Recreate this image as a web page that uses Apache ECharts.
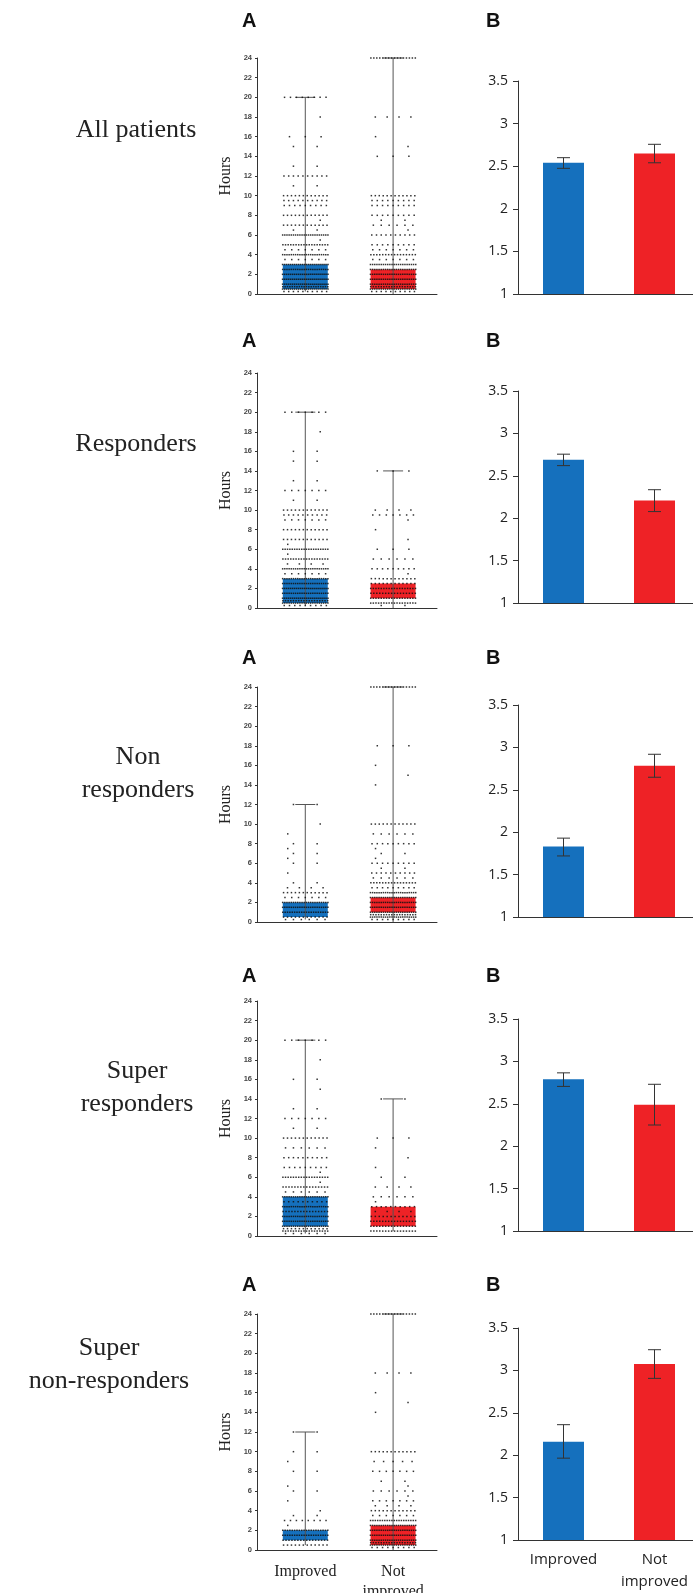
<!DOCTYPE html>
<html>
<head>
<meta charset="utf-8">
<script src="https://cdn.jsdelivr.net/npm/echarts@6/dist/echarts.min.js"></script>
<style>
html, body { margin: 0; padding: 0; background: #fff; }
#chart { width: 693px; height: 1593px; }
</style>
</head>
<body>
<div id="chart"></div>
<script>
// row titles and groups
const rowTitles = ['All patients', 'Responders', 'Non\nresponders', 'Super\nresponders', 'Super\nnon-responders'];
const groups = ['Improved', 'Not improved'];

// box summary per row: [min, q1, q3, max]
const boxImproved = [[0.25, 0.5, 3, 20], [0.25, 0.5, 3, 20], [0.25, 0.5, 2, 12], [0.25, 1, 4, 20], [0.5, 1, 2, 12]];
const boxNotImproved = [[0, 0.5, 2.5, 24], [0, 1, 2.5, 14], [0, 1, 2.5, 24], [0.5, 1, 3, 14], [0, 0.5, 2.5, 24]];

// observations: [hours, count at that level]
const dotsImproved = [
  [[20,8],[18,1],[16,3],[15,2],[13,2],[12,10],[11,2],[10,12],[9.5,10],[9,9],[8,12],[7.5,1],[7,12],[6.5,2],[6,22],[5.5,1],[5,18],[4.5,7],[4,22],[3.5,7],[3,24],[2.5,22],[2,24],[1.5,24],[1,24],[0.75,20],[0.5,24],[0.25,10]],
  [[20,7],[18,1],[16,2],[15,2],[13,2],[12,7],[11,2],[10,12],[9.5,10],[9,7],[8,12],[7,12],[6.5,1],[6,20],[5.5,1],[5,18],[4.5,4],[4,22],[3.5,7],[3,22],[2.5,22],[2,24],[1.5,22],[1,24],[0.75,18],[0.5,22],[0.25,9]],
  [[12,2],[10,1],[9,1],[8,2],[7.5,1],[7,2],[6.5,1],[6,2],[5,1],[4,2],[3.5,4],[3,12],[2.5,7],[2,22],[1.5,22],[1,20],[0.5,12],[0.25,6]],
  [[20,7],[18,1],[16,2],[15,1],[13,2],[12,7],[11,2],[10,12],[9,6],[8,10],[7,9],[6.5,1],[6,18],[5.5,1],[5,16],[4.5,6],[4,22],[3.5,10],[3,22],[2.5,16],[2,22],[1.5,22],[1,22],[0.75,12],[0.5,18],[0.25,6]],
  [[12,2],[10,2],[9,1],[8,2],[6.5,1],[6,2],[5,1],[4,1],[3.5,2],[3,8],[2.5,1],[2,20],[1.5,20],[1,16],[0.5,12]]
];
const dotsNotImproved = [
  [[24,16],[18,4],[16,1],[15,1],[14,3],[10,12],[9.5,9],[9,9],[8,9],[7.5,2],[7,6],[6.5,1],[6,10],[5,9],[4.5,7],[4,16],[3.5,7],[3,22],[2.5,22],[2,22],[1.5,22],[1,22],[0.75,18],[0.5,22],[0.25,10]],
  [[14,3],[10,4],[9.5,7],[9,1],[8,1],[7,1],[6,3],[5,6],[4,9],[3.5,1],[3,12],[2.5,12],[2,18],[1.5,16],[1,18],[0.5,18],[0.25,2]],
  [[24,16],[18,3],[16,1],[15,1],[14,1],[10,12],[9,6],[8,9],[7.5,1],[7,2],[6.5,1],[6,9],[5.5,2],[5,10],[4.5,6],[4,16],[3.5,9],[3,22],[2.5,22],[2,22],[1.5,22],[1,22],[0.75,18],[0.5,22],[0.25,9]],
  [[14,2],[10,3],[9,1],[8,1],[7,1],[6,2],[5,4],[4,6],[3.5,1],[3,10],[2.5,4],[2,12],[1.5,16],[1,16],[0.5,16]],
  [[24,16],[18,4],[16,1],[15,1],[14,1],[10,12],[9,5],[8,7],[7,2],[6.5,1],[6,6],[5.5,1],[5,7],[4.5,4],[4,12],[3.5,7],[3,20],[2.5,22],[2,22],[1.5,22],[1,22],[0.75,18],[0.5,22],[0.25,9]]
];

// mean values and error ranges
const meanImproved = [2.54, 2.69, 1.83, 2.79, 2.16];
const meanNotImproved = [2.65, 2.21, 2.785, 2.49, 3.075];
const errImproved = [[2.475, 2.60], [2.62, 2.755], [1.72, 1.93], [2.705, 2.865], [1.965, 2.36]];
const errNotImproved = [[2.54, 2.757], [2.078, 2.336], [2.648, 2.919], [2.25, 2.73], [2.906, 3.244]];

// layout
const aTop = [58, 373, 687, 1001, 1314];
const aHeight = [236, 235, 235, 235, 236];
const bTop = [81, 391, 705, 1019, 1328];
const bHeight = [213, 212, 212, 212, 212];
const letterY = [22, 342, 659, 977, 1286];
const titleY = [130, 444, 774, 1088, 1365];
const titleX = [136, 136, 138, 137, 109];

const BLUE = '#1570bd';
const RED = '#ee2226';
const AXIS = '#333';

function spread(center, levels) {
  const out = [];
  levels.forEach(([h, n], k) => {
    if (n === 1) {
      out.push([center + (k % 2 ? 0.17 : -0.2), h]);
    } else {
      for (let i = 0; i < n; i++) {
        out.push([center - 0.27 + 0.54 * (i + 0.5) / n, h]);
      }
    }
  });
  return out;
}

function renderBox(params, api) {
  const x = api.value(0);
  const lo = api.coord([x, api.value(1)]);
  const q1 = api.coord([x, api.value(2)]);
  const q3 = api.coord([x, api.value(3)]);
  const hi = api.coord([x, api.value(4)]);
  const half = 22.5;
  return {
    type: 'group',
    children: [
      { type: 'rect', shape: { x: q3[0] - half, y: q3[1], width: half * 2, height: q1[1] - q3[1] },
        style: { fill: api.visual('color') } },
      { type: 'line', shape: { x1: lo[0], y1: lo[1], x2: hi[0], y2: hi[1] },
        style: { stroke: '#555', lineWidth: 1 } },
      { type: 'line', shape: { x1: hi[0] - 10, y1: hi[1], x2: hi[0] + 10, y2: hi[1] },
        style: { stroke: '#555', lineWidth: 1 } }
    ]
  };
}

function renderErr(params, api) {
  const x = api.value(0);
  const lo = api.coord([x, api.value(1)]);
  const hi = api.coord([x, api.value(2)]);
  const w = 6.5;
  const st = { stroke: '#333', lineWidth: 1 };
  return {
    type: 'group',
    children: [
      { type: 'line', shape: { x1: lo[0], y1: lo[1], x2: hi[0], y2: hi[1] }, style: st },
      { type: 'line', shape: { x1: hi[0] - w, y1: hi[1], x2: hi[0] + w, y2: hi[1] }, style: st },
      { type: 'line', shape: { x1: lo[0] - w, y1: lo[1], x2: lo[0] + w, y2: lo[1] }, style: st }
    ]
  };
}

const grid = [], xAxis = [], yAxis = [], series = [], graphic = [];

for (let r = 0; r < 5; r++) {
  const last = r === 4;
  const ga = r * 2, gb = r * 2 + 1;

  grid.push({ left: 257, top: aTop[r], width: 180, height: aHeight[r], outerBoundsMode: 'none', containLabel: false });
  grid.push({ left: 518, top: bTop[r], width: 182, height: bHeight[r], outerBoundsMode: 'none', containLabel: false });

  xAxis.push({
    gridIndex: ga, type: 'value', min: 0.45, max: 2.5,
    splitLine: { show: false },
    axisLine: { show: true, lineStyle: { color: AXIS } },
    axisTick: { show: false },
    axisLabel: {
      show: last, customValues: [1, 2], margin: 12, verticalAlign: 'top',
      fontFamily: 'Liberation Serif', fontSize: 16, lineHeight: 20, color: '#222',
      formatter: v => (v === 1 ? 'Improved' : 'Not\nimproved')
    }
  });
  xAxis.push({
    gridIndex: gb, type: 'category', data: groups,
    axisLine: { lineStyle: { color: AXIS } },
    axisTick: { length: 8, lineStyle: { color: AXIS } },
    axisLabel: {
      show: last, margin: 9, verticalAlign: 'top', interval: 0,
      fontFamily: 'Open Sans', fontSize: 15, lineHeight: 22, color: '#222',
      formatter: v => v.replace(' ', '\n')
    }
  });

  yAxis.push({
    gridIndex: ga, type: 'value', min: 0, max: 24, interval: 2,
    name: 'Hours', nameLocation: 'middle', nameGap: 23,
    nameTextStyle: { fontFamily: 'Liberation Serif', fontSize: 16, color: '#222' },
    splitLine: { show: false },
    axisLine: { show: true, lineStyle: { color: AXIS } },
    axisTick: { show: true, length: 2, lineStyle: { color: AXIS } },
    axisLabel: { fontFamily: 'Liberation Sans', fontSize: 7.5, fontWeight: 'bold', color: '#444', margin: 5 }
  });
  yAxis.push({
    gridIndex: gb, type: 'value', min: 1, max: 3.5, interval: 0.5,
    splitLine: { show: false },
    axisLine: { show: true, lineStyle: { color: AXIS } },
    axisTick: { show: true, length: 5, lineStyle: { color: AXIS } },
    axisLabel: { fontFamily: 'Open Sans', fontSize: 14, color: '#222', margin: 10 }
  });

  // A panel: boxes, then dots
  series.push({
    type: 'custom', xAxisIndex: ga, yAxisIndex: ga, renderItem: renderBox,
    data: [
      { value: [1, ...boxImproved[r]], itemStyle: { color: BLUE } },
      { value: [2, ...boxNotImproved[r]], itemStyle: { color: RED } }
    ],
    silent: true, z: 2
  });
  series.push({
    type: 'scatter', xAxisIndex: ga, yAxisIndex: ga,
    data: spread(1, dotsImproved[r]).concat(spread(2, dotsNotImproved[r])),
    symbol: 'rect', symbolSize: 1.5,
    itemStyle: { color: '#111', opacity: 0.85 },
    silent: true, z: 3
  });

  // B panel: bars and error bars
  series.push({
    type: 'bar', xAxisIndex: gb, yAxisIndex: gb, barWidth: 41,
    data: [
      { value: meanImproved[r], itemStyle: { color: BLUE } },
      { value: meanNotImproved[r], itemStyle: { color: RED } }
    ],
    silent: true
  });
  series.push({
    type: 'custom', xAxisIndex: gb, yAxisIndex: gb, renderItem: renderErr,
    data: [[0, ...errImproved[r]], [1, ...errNotImproved[r]]],
    silent: true, z: 5
  });

  graphic.push({
    type: 'text', left: 242, top: letterY[r] - 11,
    style: { text: 'A', font: 'bold 20px "Liberation Sans", Arial', fill: '#111' }
  });
  graphic.push({
    type: 'text', left: 486, top: letterY[r] - 11,
    style: { text: 'B', font: 'bold 20px "Liberation Sans", Arial', fill: '#111' }
  });
  graphic.push({
    type: 'text', x: titleX[r], y: titleY[r],
    style: {
      text: rowTitles[r], font: '26px "Liberation Serif", serif', fill: '#222',
      align: 'center', verticalAlign: 'middle', lineHeight: 33
    }
  });
}

const chart = echarts.init(document.getElementById('chart'));
chart.setOption({
  animation: false,
  backgroundColor: '#fff',
  grid, xAxis, yAxis, series, graphic
});
</script>
</body>
</html>
